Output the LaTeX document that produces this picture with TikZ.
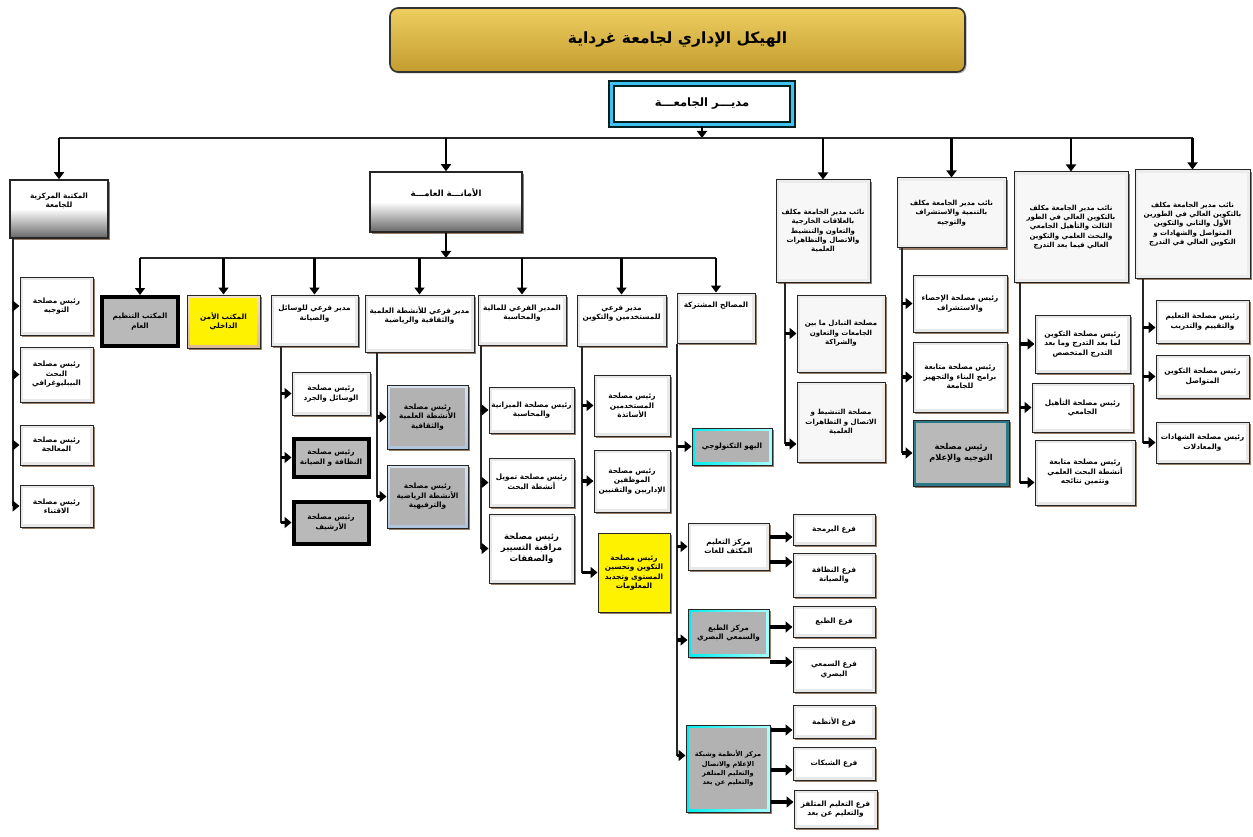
\documentclass[tikz,border=0pt]{standalone}
\usepackage{fontspec}
\newfontfamily\arabicfont[Script=Arabic]{DejaVu Sans}
\TeXXeTstate=1
\usetikzlibrary{arrows.meta,shadows,calc}
\newcommand\artxt[1]{\beginR #1\endR}
\definecolor{tealdk}{RGB}{45,120,135}
\definecolor{steel}{RGB}{176,196,222}
\definecolor{goldtop}{RGB}{238,206,96}
\definecolor{goldbot}{RGB}{196,156,48}
\definecolor{shadowc}{RGB}{110,70,40}
\tikzset{
  innerfill/.style={path picture={\fill[#1] ([shift={(3pt,-3pt)}]path picture bounding box.north west) rectangle ([shift={(-3pt,3pt)}]path picture bounding box.south east);}},
  box/.style={draw=black!85, line width=1pt, align=center, inner sep=1pt,
    font=\arabicfont\bfseries\fontsize{7.3}{9.4}\selectfont,
    drop shadow={shadow xshift=1.8pt, shadow yshift=-1.8pt, fill=shadowc, opacity=.7}},
  plain/.style={box, fill=gray!18, innerfill=white},
  vpbox/.style={box, fill=gray!15, innerfill=gray!6, font=\arabicfont\bfseries\fontsize{7}{9.4}\selectfont},
  grad/.style={box, top color=white, bottom color=black!60, middle color=white, line width=1.5pt},
  blk/.style={box, draw=black, line width=4pt, fill=gray!55},
  ylw/.style={box, fill=yellow},
  amnbox/.style={box, top color=brown!25!white, bottom color=brown!55!white, innerfill=yellow},
  cyn/.style={box, left color=cyan!85!teal, right color=cyan!35!white, innerfill=gray!60},
  tealbox/.style={box, fill=tealdk, innerfill=gray!55},
  bluebox/.style={box, top color=steel!50!white, bottom color=steel, innerfill=gray!60},
  varrow/.style={line width=2.8pt, -{Triangle[length=7pt,width=10pt]}},
  harrow/.style={line width=3.6pt, -{Triangle[length=7pt,width=11pt]}},
  busline/.style={line width=1.8pt, black!85},
  vline/.style={line width=1.3pt, black!85},
}
\begin{document}
\begin{tikzpicture}[x=1pt,y=-1pt]
\useasboundingbox[fill=white] (0,0) rectangle (1253,837);

% title and director
\node[draw=black!80, line width=1.6pt, rounded corners=8pt, top color=goldtop, bottom color=goldbot,
  minimum width=575pt, minimum height=64pt, font=\arabicfont\bfseries\fontsize{15.5}{18}\selectfont,
  drop shadow={shadow xshift=1.5pt, shadow yshift=-1.5pt, fill=black!50, opacity=.6}]
  (title) at (677.5,40) {\artxt{الهيكل الإداري لجامعة غرداية}};
\node[draw=teal!25!black, line width=2.6pt, double=cyan!75, double distance=2.5pt, fill=white,
  minimum width=181pt, minimum height=41pt, font=\arabicfont\bfseries\fontsize{11.5}{13}\selectfont,
  drop shadow={shadow xshift=2pt, shadow yshift=-2pt, fill=black!60, opacity=.7}]
  (dir) at (702,104) {\artxt{مديـــر الجامعـــة}};

% level 1
\node[grad, minimum width=98pt, minimum height=58pt] (lib) at (59,209) {\artxt{المكتبة المركزية}\\\artxt{للجامعة}\\[8pt]};
\node[grad, minimum width=152pt, minimum height=60pt, font=\arabicfont\bfseries\fontsize{8.5}{10}\selectfont] (amana) at (446,202) {\artxt{الأمانـــة العامـــة}\\[10pt]};
\node[vpbox, minimum width=94pt, minimum height=102pt] (vp1) at (823,231) {\artxt{نائب مدير الجامعة مكلف}\\\artxt{بالعلاقات الخارجية}\\\artxt{والتعاون والتنشيط}\\\artxt{والاتصال والتظاهرات}\\\artxt{العلمية}};
\node[vpbox, minimum width=109pt, minimum height=70pt] (vp2) at (951.5,213) {\artxt{نائب مدير الجامعة مكلف}\\\artxt{بالتنمية والاستشراف}\\\artxt{والتوجيه}};
\node[vpbox, minimum width=114pt, minimum height=110pt] (vp3) at (1071,227) {\artxt{نائب مدير الجامعة مكلف}\\\artxt{بالتكوين العالي في الطور}\\\artxt{الثالث والتأهيل الجامعي}\\\artxt{والبحث العلمي والتكوين}\\\artxt{العالي فيما بعد التدرج}};
\node[vpbox, minimum width=115pt, minimum height=108pt] (vp4) at (1192.5,224) {\artxt{نائب مدير الجامعة مكلف}\\\artxt{بالتكوين العالي في الطورين}\\\artxt{الأول والثاني والتكوين}\\\artxt{المتواصل والشهادات و}\\\artxt{التكوين العالي في التدرج}};

\coordinate (bus) at (0,138);
\draw[varrow] (dir.south) -- (dir.south |- bus);
\draw[busline] (lib.north |- bus) -- (vp4.north |- bus);
\foreach \n in {lib,amana,vp1,vp2,vp3,vp4} \draw[varrow] (\n.north |- bus) -- (\n.north);

% level 2 under amana
\node[blk, minimum width=76pt, minimum height=49pt] (ll1) at (140,321.5) {\artxt{المكتب التنظيم}\\\artxt{العام}};
\node[amnbox, minimum width=73pt, minimum height=53pt] (ll2) at (223.5,321.5) {\artxt{المكتب الأمن}\\\artxt{الداخلي}};
\node[plain, minimum width=87pt, minimum height=51pt] (ll3) at (314.5,320.5) {\artxt{مدير فرعي للوسائل}\\\artxt{والصيانة}\\[6pt]};
\node[plain, minimum width=109pt, minimum height=57pt] (ll4) at (419.5,323.5) {\artxt{مدير فرعي للأنشطة العلمية}\\\artxt{والثقافية والرياضية}\\[8pt]};
\node[plain, minimum width=88pt, minimum height=50pt] (ll5) at (522,320) {\artxt{المدير الفرعي للمالية}\\\artxt{والمحاسبة}\\[6pt]};
\node[plain, minimum width=89pt, minimum height=51pt] (ll6) at (621.5,320.5) {\artxt{مدير فرعي}\\\artxt{للمستخدمين والتكوين}\\[6pt]};
\node[plain, minimum width=78pt, minimum height=50pt] (ll7) at (716,318) {\artxt{المصالح المشتركة}\\[18pt]};

\coordinate (bus2) at (0,258);
\draw[varrow] (amana.south) -- (amana.south |- bus2);
\draw[busline] (ll1.north |- bus2) -- (ll7.north |- bus2);
\foreach \n in {ll1,ll2,ll3,ll4,ll5,ll6,ll7} \draw[varrow] (\n.north |- bus2) -- (\n.north);

% library children
\node[plain, minimum width=73pt, minimum height=58pt] (l1) at (56.5,306) {\artxt{رئيس مصلحة}\\\artxt{التوجيه}};
\node[plain, minimum width=73pt, minimum height=55pt] (l2) at (56.5,374.5) {\artxt{رئيس مصلحة}\\\artxt{البحث}\\\artxt{البيبليوغرافي}};
\node[plain, minimum width=73pt, minimum height=40pt] (l3) at (56.5,445) {\artxt{رئيس مصلحة}\\\artxt{المعالجة}};
\node[plain, minimum width=73pt, minimum height=42pt] (l4) at (56.5,506) {\artxt{رئيس مصلحة}\\\artxt{الاقتناء}};
\coordinate (xa) at (13,0);
\draw[vline] (lib.south -| xa) -- (l4.west -| xa);
\foreach \n in {l1,l2,l3,l4} \draw[harrow] (\n.west -| xa) -- (\n.west);

% wasail children
\node[plain, minimum width=78pt, minimum height=43pt] (w1) at (331,393.5) {\artxt{رئيس مصلحة}\\\artxt{الوسائل والجرد}};
\node[blk, minimum width=75pt, minimum height=38pt] (w2) at (331,457.5) {\artxt{رئيس مصلحة}\\\artxt{النظافة و الصيانة}};
\node[blk, minimum width=75pt, minimum height=42pt] (w3) at (331,522.5) {\artxt{رئيس مصلحة}\\\artxt{الأرشيف}};
\coordinate (xb) at (281,0);
\draw[vline] (ll3.south -| xb) -- (w3.west -| xb);
\foreach \n in {w1,w2,w3} \draw[harrow] (\n.west -| xb) -- (\n.west);

% anshita children
\node[bluebox, minimum width=81pt, minimum height=64pt] (a1) at (427.5,417) {\artxt{رئيس مصلحة}\\\artxt{الأنشطة العلمية}\\\artxt{والثقافية}};
\node[bluebox, minimum width=81pt, minimum height=63pt] (a2) at (427.5,496.5) {\artxt{رئيس مصلحة}\\\artxt{الأنشطة الرياضية}\\\artxt{والترفيهية}};
\coordinate (xc) at (377,0);
\draw[vline] (ll4.south -| xc) -- (a2.west -| xc);
\foreach \n in {a1,a2} \draw[harrow] (\n.west -| xc) -- (\n.west);

% maliya children
\node[plain, minimum width=85pt, minimum height=46pt] (m1) at (531.5,410) {\artxt{رئيس مصلحة الميزانية}\\\artxt{والمحاسبة}};
\node[plain, minimum width=85pt, minimum height=49pt] (m2) at (531.5,482.5) {\artxt{رئيس مصلحة تمويل}\\\artxt{أنشطة البحث}};
\node[plain, minimum width=85pt, minimum height=69pt, font=\arabicfont\bfseries\fontsize{8.5}{11}\selectfont] (m3) at (531.5,548.5) {\artxt{رئيس مصلحة}\\\artxt{مراقبة التسيير}\\\artxt{والصفقات}};
\coordinate (xd) at (481,0);
\draw[vline] (ll5.south -| xd) -- (m3.west -| xd);
\foreach \n in {m1,m2,m3} \draw[harrow] (\n.west -| xd) -- (\n.west);

% mustakhdimin children
\node[plain, minimum width=76pt, minimum height=61pt] (s1) at (632,405.5) {\artxt{رئيس مصلحة}\\\artxt{المستخدمين}\\\artxt{الأساتذة}};
\node[plain, minimum width=76pt, minimum height=62pt] (s2) at (632,481) {\artxt{رئيس مصلحة}\\\artxt{الموظفين}\\\artxt{الإداريين والتقنيين}};
\node[ylw, minimum width=72pt, minimum height=79pt] (s3) at (634,572.5) {\artxt{رئيس مصلحة}\\\artxt{التكوين وتحسين}\\\artxt{المستوى وتجديد}\\\artxt{المعلومات}};
\coordinate (xe) at (582,0);
\draw[vline] (ll6.south -| xe) -- (s3.west -| xe);
\foreach \n in {s1,s2,s3} \draw[harrow] (\n.west -| xe) -- (\n.west);

% mushtaraka children
\node[cyn, minimum width=80pt, minimum height=37pt] (c1) at (732,446.5) {\artxt{البهو التكنولوجي}};
\node[plain, minimum width=81pt, minimum height=47pt] (c2) at (728.5,546.5) {\artxt{مركز التعليم}\\\artxt{المكثف للغات}};
\node[cyn, minimum width=81pt, minimum height=48pt] (c3) at (728.5,633) {\artxt{مركز الطبع}\\\artxt{والسمعي البصري}};
\node[cyn, minimum width=84pt, minimum height=87pt, font=\arabicfont\bfseries\fontsize{6.6}{9.4}\selectfont] (c4) at (728,768.5) {\artxt{مركز الأنظمة وشبكة}\\\artxt{الإعلام والاتصال}\\\artxt{والتعليم المتلفز}\\\artxt{والتعليم عن بعد}};
\coordinate (xf) at (677,0);
\path ([yshift=-7pt]c3.west) coordinate (c3p) ([yshift=13pt]c4.west) coordinate (c4p);
\draw[vline] (ll7.south -| xf) -- (c4p -| xf);
\foreach \n in {c1,c2,c3p,c4p} \draw[harrow] (\n -| xf) -- (\n);

% branches
\node[plain, minimum width=82pt, minimum height=31pt] (g1) at (834,529.5) {\artxt{فرع البرمجة}};
\node[plain, minimum width=82pt, minimum height=44pt] (g2) at (834,575) {\artxt{فرع النظافة}\\\artxt{والصيانة}};
\node[plain, minimum width=82pt, minimum height=31pt] (g3) at (834,621.5) {\artxt{فرع الطبع}};
\node[plain, minimum width=82pt, minimum height=45pt] (g4) at (834,669.5) {\artxt{فرع السمعي}\\\artxt{البصري}};
\node[plain, minimum width=82pt, minimum height=33pt] (g5) at (834,721.5) {\artxt{فرع الأنظمة}};
\node[plain, minimum width=82pt, minimum height=33pt] (g6) at (834,763.5) {\artxt{فرع الشبكات}};
\node[plain, minimum width=83pt, minimum height=38pt] (g7) at (835.5,809) {\artxt{فرع التعليم المتلفز}\\\artxt{والتعليم عن بعد}};
\path ([yshift=-7.5pt]g1.west) coordinate (g1p) ([yshift=13pt]g2.west) coordinate (g2p)
      ([yshift=-5.5pt]g3.west) coordinate (g3p) ([yshift=7.5pt]g4.west) coordinate (g4p)
      ([yshift=-8.5pt]g5.west) coordinate (g5p) ([yshift=-6.5pt]g6.west) coordinate (g6p)
      ([yshift=7pt]g7.west) coordinate (g7p);
\foreach \g in {g1p,g2p} \draw[harrow] (c2.east |- \g) -- (\g);
\foreach \g in {g3p,g4p} \draw[harrow] (c3.east |- \g) -- (\g);
\foreach \g in {g5p,g6p,g7p} \draw[harrow] (c4.east |- \g) -- (\g);

% VP1 children
\node[vpbox, minimum width=88pt, minimum height=77pt] (v1a) at (841,333.5) {\artxt{مصلحة التبادل ما بين}\\\artxt{الجامعات والتعاون}\\\artxt{والشراكة}};
\node[vpbox, minimum width=88pt, minimum height=80pt] (v1b) at (841,422) {\artxt{مصلحة التنشيط و}\\\artxt{الاتصال و التظاهرات}\\\artxt{العلمية}};
\coordinate (xg) at (785,0);
\path ([yshift=-22pt]v1b.west) coordinate (v1bp);
\draw[vline] (vp1.south -| xg) -- (v1bp -| xg);
\foreach \n in {v1a,v1bp} \draw[harrow] (\n -| xg) -- (\n);

% VP2 children
\node[plain, minimum width=94pt, minimum height=57pt] (v2a) at (960,303.5) {\artxt{رئيس مصلحة الإحصاء}\\\artxt{والاستشراف}};
\node[plain, minimum width=94pt, minimum height=70pt] (v2b) at (960,377) {\artxt{رئيس مصلحة متابعة}\\\artxt{برامج البناء والتجهيز}\\\artxt{للجامعة}};
\node[tealbox, minimum width=96pt, minimum height=66pt, font=\arabicfont\bfseries\fontsize{8.2}{10.5}\selectfont] (v2c) at (961,453) {\artxt{رئيس مصلحة}\\\artxt{التوجيه والإعلام}};
\coordinate (xh) at (902,0);
\draw[vline] (vp2.south -| xh) -- (v2c.west -| xh);
\foreach \n in {v2a,v2b,v2c} \draw[harrow] (\n.west -| xh) -- (\n.west);

% VP3 children
\node[plain, minimum width=95pt, minimum height=58pt] (v3a) at (1082.5,344) {\artxt{رئيس مصلحة التكوين}\\\artxt{لما بعد التدرج وما بعد}\\\artxt{التدرج المتخصص}};
\node[plain, minimum width=101pt, minimum height=49pt] (v3b) at (1082.5,407.5) {\artxt{رئيس مصلحة التأهيل}\\\artxt{الجامعي}};
\node[plain, minimum width=100pt, minimum height=65pt] (v3c) at (1085,472.5) {\artxt{رئيس مصلحة متابعة}\\\artxt{أنشطة البحث العلمي}\\\artxt{وتثمين نتائجه}};
\coordinate (xi) at (1020,0);
\path ([yshift=-10pt]v3c.west) coordinate (v3cp);
\draw[vline] (vp3.south -| xi) -- (v3cp -| xi);
\foreach \n in {v3a.west,v3b.west,v3cp} \draw[harrow] (\n -| xi) -- (\n);

% VP4 children
\node[plain, minimum width=93pt, minimum height=43pt] (v4a) at (1202.5,321.5) {\artxt{رئيس مصلحة التعليم}\\\artxt{والتقييم والتدريب}};
\node[plain, minimum width=93pt, minimum height=43pt] (v4b) at (1202.5,376.5) {\artxt{رئيس مصلحة التكوين}\\\artxt{المتواصل}};
\node[plain, minimum width=93pt, minimum height=41pt] (v4c) at (1202.5,442.5) {\artxt{رئيس مصلحة الشهادات}\\\artxt{والمعادلات}};
\coordinate (xj) at (1143,0);
\path ([yshift=-6pt]v4a.west) coordinate (v4ap);
\draw[vline] (vp4.south -| xj) -- (v4c.west -| xj);
\foreach \n in {v4ap,v4b.west,v4c.west} \draw[harrow] (\n -| xj) -- (\n);
\end{tikzpicture}
\end{document}
